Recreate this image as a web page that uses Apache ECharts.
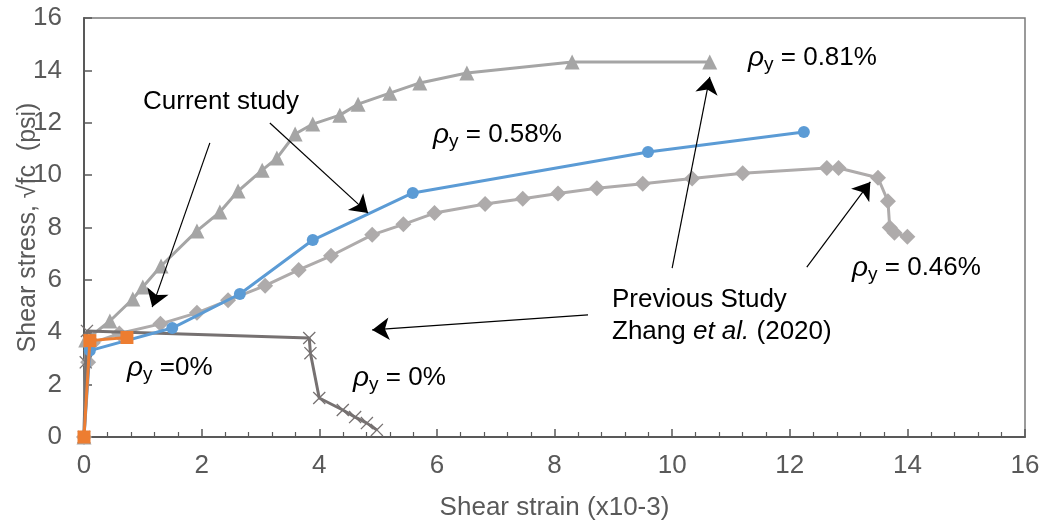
<!DOCTYPE html>
<html><head><meta charset="utf-8">
<script src="https://cdn.jsdelivr.net/npm/echarts@6/dist/echarts.min.js"></script>
<style>html,body{margin:0;padding:0;background:#fff}#c{width:1045px;height:527px}</style>
</head><body><div id="c"></div>
<script>
// ---- data (shear strain x10^-3, shear stress in sqrt(f'c) psi) ----
const xTicks = [0, 2, 4, 6, 8, 10, 12, 14, 16];
const yTicks = [0, 2, 4, 6, 8, 10, 12, 14, 16];

// Previous study, rho_y = 0.81% (triangles)
const p081X = [0, 0.03, 0.44, 0.83, 1.0, 1.31, 1.92, 2.31, 2.62, 3.03, 3.28, 3.59, 3.89, 4.35, 4.66, 5.2, 5.71, 6.51, 8.3, 10.64];
const p081Y = [0, 3.7, 4.43, 5.27, 5.73, 6.53, 7.87, 8.59, 9.39, 10.19, 10.65, 11.57, 11.95, 12.29, 12.71, 13.13, 13.52, 13.9, 14.32, 14.32];

// Previous study, rho_y = 0.46% (diamonds)
const p046X = [0, 0.07, 0.15, 0.6, 1.3, 1.92, 2.45, 3.08, 3.65, 4.2, 4.9, 5.43, 5.96, 6.82, 7.46, 8.06, 8.72, 9.5, 10.34, 11.2, 12.63, 12.83, 13.5, 13.67, 13.7, 13.78, 14.0];
const p046Y = [0, 2.85, 3.6, 3.95, 4.32, 4.74, 5.22, 5.78, 6.38, 6.92, 7.72, 8.12, 8.55, 8.9, 9.1, 9.3, 9.5, 9.67, 9.87, 10.07, 10.27, 10.27, 9.9, 9.0, 8.0, 7.8, 7.65];

// Previous study, rho_y = 0% (crosses)
const p000X = [0, 0.03, 0.05, 3.83, 3.85, 4.0, 4.4, 4.61, 4.81, 4.98];
const p000Y = [0, 2.85, 4.05, 3.78, 3.2, 1.49, 1.03, 0.76, 0.53, 0.27];

// Current study, rho_y = 0.58% (circles)
const c058X = [0, 0.1, 1.5, 2.65, 3.89, 5.59, 9.59, 12.24];
const c058Y = [0, 3.3, 4.16, 5.46, 7.52, 9.32, 10.88, 11.65];

// Current study, rho_y = 0% (squares)
const c000X = [0, 0.1, 0.73];
const c000Y = [0, 3.68, 3.8];

// annotation arrows [x1, y1, x2, y2] in data units
const arrowCur1 = [2.14, 11.23, 1.16, 4.96];
const arrowCur2 = [3.16, 11.99, 4.83, 8.55];
const arrow081 = [10.0, 6.45, 10.64, 13.75];
const arrow046 = [12.29, 6.49, 13.37, 9.74];
const arrowPrev = [8.57, 4.66, 4.9, 4.09];

const zip = (xs, ys) => xs.map((x, i) => [x, ys[i]]);
const arrows = [arrowCur1, arrowCur2, arrow081, arrow046, arrowPrev].map(a => ({coords: [[a[0], a[1]], [a[2], a[3]]]}));

const FONT = 'Liberation Sans, Arial, sans-serif';
const axisGray = '#595959';
const crossPath = 'path://M0,0.7L0.7,0L5,4.3L9.3,0L10,0.7L5.7,5L10,9.3L9.3,10L5,5.7L0.7,10L0,9.3L4.3,5Z';

const rhoRich = {
  r: {fontFamily: FONT, fontSize: 28, fontStyle: 'italic', color: '#000'},
  s: {fontFamily: FONT, fontSize: 19, color: '#000', padding: [14, 0, 0, 0]},
  t: {fontFamily: FONT, fontSize: 26, color: '#000'}
};
function rhoText(left, top, rest) {
  return {type: 'text', left: left, top: top, z: 100,
    style: {text: '{r|ρ}{s|y}{t|' + rest + '}', rich: rhoRich}};
}

const chart = echarts.init(document.getElementById('c'));
chart.setOption({
  animation: false,
  grid: {left: 84, right: 20, top: 18, bottom: 90, containLabel: false, outerBoundsMode: 'none',
    show: true, borderColor: '#7a7a7a', borderWidth: 1.5},
  xAxis: {
    type: 'value', min: 0, max: 16, interval: 2,
    name: 'Shear strain (x10-3)', nameLocation: 'middle', nameGap: 58, nameMoveOverlap: false,
    nameTextStyle: {fontFamily: FONT, fontSize: 26, color: axisGray},
    axisLine: {lineStyle: {color: axisGray, width: 2}},
    axisTick: {inside: true, length: 8, lineStyle: {color: axisGray, width: 1.5}},
    minorTick: {show: true, splitNumber: 5, length: 5, lineStyle: {color: axisGray, width: 1.2}},
    splitLine: {show: false},
    axisLabel: {fontFamily: FONT, fontSize: 26, color: axisGray, margin: 16,
      formatter: v => xTicks.includes(v) ? String(v) : ''}
  },
  yAxis: {
    type: 'value', min: 0, max: 16, interval: 2,
    name: 'Shear stress, \u221Afc  (psi)', nameLocation: 'middle', nameGap: 43, nameMoveOverlap: false,
    nameTextStyle: {fontFamily: FONT, fontSize: 25, color: axisGray},
    axisLine: {show: true, lineStyle: {color: axisGray, width: 2}},
    axisTick: {show: true, inside: true, length: 8, lineStyle: {color: axisGray, width: 1.5}},
    splitLine: {show: false},
    axisLabel: {fontFamily: FONT, fontSize: 26, color: axisGray, margin: 22,
      formatter: v => yTicks.includes(v) ? String(v) : ''}
  },
  series: [
    {type: 'line', name: 'p081', data: zip(p081X, p081Y), symbol: 'triangle', symbolSize: 15,
      lineStyle: {color: '#A5A5A5', width: 3}, itemStyle: {color: '#A5A5A5'}, z: 2},
    {type: 'line', name: 'p046', data: zip(p046X, p046Y), symbol: 'diamond', symbolSize: 16,
      lineStyle: {color: '#AEABAB', width: 3}, itemStyle: {color: '#AEABAB'}, z: 2},
    {type: 'line', name: 'p000', data: zip(p000X, p000Y), symbol: crossPath, symbolSize: 13,
      lineStyle: {color: '#767171', width: 3}, itemStyle: {color: '#767171'}, z: 3},
    {type: 'line', name: 'c058', data: zip(c058X, c058Y), symbol: 'circle', symbolSize: 12,
      lineStyle: {color: '#5B9BD5', width: 3}, itemStyle: {color: '#5B9BD5'}, z: 4},
    {type: 'line', name: 'c000', data: zip(c000X, c000Y), symbol: 'rect', symbolSize: 13,
      lineStyle: {color: '#ED7D31', width: 3}, itemStyle: {color: '#ED7D31'}, z: 5},
    {type: 'lines', coordinateSystem: 'cartesian2d', data: arrows, z: 10,
      symbol: ['none', 'arrow'], symbolSize: [0, 17],
      lineStyle: {color: '#000', width: 1.2, opacity: 1}, silent: true}
  ],
  graphic: [
    {type: 'text', left: 143, top: 89, z: 100, style: {text: 'Current study', fontFamily: FONT, fontSize: 26, fill: '#000'}},
    {type: 'text', left: 612, top: 287, z: 100, style: {text: 'Previous Study', fontFamily: FONT, fontSize: 26, fill: '#000'}},
    {type: 'text', left: 612, top: 319, z: 100, style: {
      text: '{a|Zhang }{b|et al.}{a| (2020)}',
      rich: {a: {fontFamily: FONT, fontSize: 26, color: '#000'}, b: {fontFamily: FONT, fontSize: 26, fontStyle: 'italic', color: '#000'}}}},
    rhoText(748, 44, ' = 0.81%'),
    rhoText(433, 121, ' = 0.58%'),
    rhoText(852, 254, ' = 0.46%'),
    rhoText(127, 354, ' =0%'),
    rhoText(353, 364, ' = 0%')
  ]
});
</script></body></html>
